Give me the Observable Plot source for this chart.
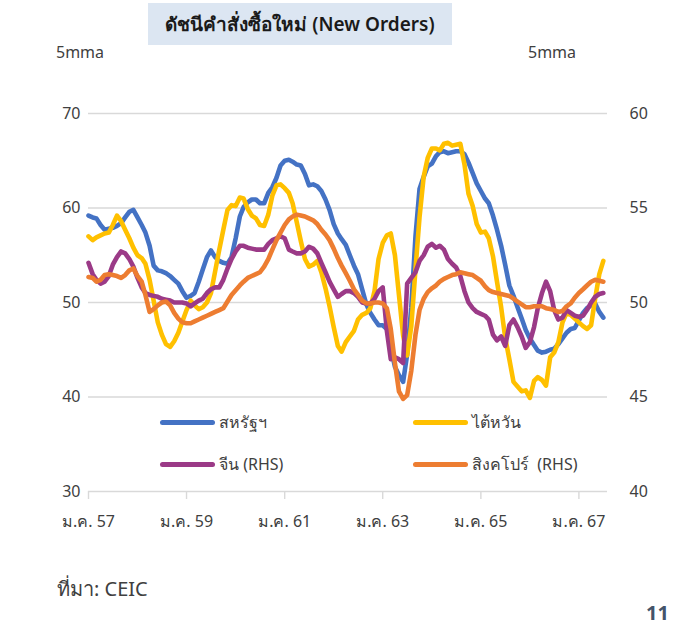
<!DOCTYPE html>
<html><head><meta charset="utf-8">
<script src="https://cdn.jsdelivr.net/npm/d3@7"></script>
<script src="https://cdn.jsdelivr.net/npm/@observablehq/plot@0.6"></script>
<style>
body{margin:0;background:#fff;}
#wrap{position:relative;width:679px;height:627px;font-family:"Noto Sans","Open Sans",sans-serif;color:#404040;overflow:hidden;}
#wrap svg{position:absolute;left:0;top:0;}
.abs{position:absolute;white-space:nowrap;}
.title{left:148px;top:3px;width:304px;height:42px;background:#dce6f2;color:#1a1a1a;font-size:19px;font-weight:600;line-height:42px;text-align:center;}
.lab{font-size:16px;color:#404040;line-height:1.2;}
.leg{position:absolute;height:16px;display:flex;align-items:center;font-size:16px;color:#404040;}
.leg i{display:inline-block;width:55px;height:5px;border-radius:3px;margin-right:4px;}
</style></head><body>
<div id="wrap"></div>
<script>
// Monthly data, Jan 2014 (ม.ค. 57) – Jul 2024, 5-month moving average
const seriesNames = ["สหรัฐฯ", "ไต้หวัน", "จีน (RHS)", "สิงคโปร์  (RHS)"];
const seriesColors = ["#4472C4", "#FFC000", "#9B3A87", "#ED7D31"];
const xTickLabels = ["ม.ค. 57", "ม.ค. 59", "ม.ค. 61", "ม.ค. 63", "ม.ค. 65", "ม.ค. 67"];
const leftTicks = [30, 40, 50, 60, 70];
const rightTicks = [40, 45, 50, 55, 60];

const usa = [59.2,59.0,58.9,58.2,57.7,57.8,57.9,58.1,58.4,59.0,59.6,59.8,59.0,58.2,57.4,56.0,53.9,53.4,53.3,53.1,
52.8,52.4,52.0,51.2,50.5,50.7,51.0,52.2,53.5,54.8,55.5,54.8,54.4,54.2,54.1,54.8,56.8,59.1,60.1,60.6,
60.9,60.9,60.5,60.5,61.6,62.2,63.2,64.5,65.0,65.1,64.9,64.6,64.5,63.6,62.4,62.5,62.3,61.8,60.9,59.8,
58.3,57.3,56.7,56.1,55.0,53.9,53.0,51.4,49.8,48.9,48.2,47.6,47.6,47.2,45.2,43.2,42.3,41.6,44.5,49.5,
57.0,62.0,63.3,64.4,64.7,65.5,65.9,66.0,65.8,65.9,66.0,66.0,65.7,64.8,63.7,62.6,61.8,61.0,60.5,59.2,
57.7,56.0,54.0,51.8,50.7,49.5,48.3,47.1,46.2,45.5,44.9,44.7,44.8,45.0,45.1,45.6,46.2,46.8,47.2,47.3,
48.1,48.9,49.4,49.7,49.9,49.0,48.4];

const taiwan = [57.0,56.6,56.9,57.1,57.3,57.4,58.2,59.2,58.6,57.7,56.8,55.8,55.0,54.7,54.1,52.4,50.2,47.9,46.6,45.6,
45.3,45.9,46.8,48.0,49.2,50.2,49.7,49.3,49.5,50.0,51.0,53.3,55.6,57.7,59.8,60.3,60.2,61.1,61.0,59.9,
59.2,58.9,58.2,58.1,59.3,61.3,62.4,62.5,62.1,61.6,60.5,58.5,56.5,54.6,53.8,54.0,54.4,53.2,51.5,49.6,
47.4,45.4,44.8,45.8,46.4,47.0,48.2,48.7,48.9,49.4,51.2,54.6,56.3,57.1,57.3,55.0,50.8,46.5,44.4,47.5,
53.5,59.0,63.3,65.3,66.3,66.3,66.1,66.8,66.9,66.6,66.7,66.8,64.6,61.5,60.2,58.3,57.4,57.5,56.8,54.9,
52.2,49.5,46.3,44.0,41.6,41.1,40.6,40.7,39.9,41.7,42.1,41.8,41.2,44.2,44.7,45.8,47.9,48.9,48.7,48.3,
47.9,47.5,47.2,47.6,50.4,53.0,54.4];

const china = [52.1,51.5,51.2,51.0,51.1,51.4,52.0,52.4,52.7,52.6,52.3,51.9,51.3,50.8,50.5,50.4,50.35,50.3,50.2,50.15,
50.1,50.0,50.0,50.0,49.95,49.8,49.95,50.1,50.2,50.5,50.7,50.8,50.8,51.2,51.8,52.3,52.7,53.0,53.0,52.9,
52.85,52.8,52.8,52.8,53.1,53.3,53.4,53.5,53.4,52.8,52.7,52.6,52.6,52.7,52.95,52.85,52.6,52.1,51.6,51.1,
50.7,50.3,50.45,50.6,50.6,50.5,50.3,50.0,49.95,49.95,50.2,50.6,50.8,48.5,47.0,47.1,47.0,46.8,51.0,51.3,
51.6,52.2,52.5,52.95,53.1,52.9,53.0,52.8,52.3,52.05,51.85,51.4,50.6,50.0,49.7,49.5,49.4,49.3,49.1,48.3,
48.0,48.2,47.7,48.8,49.1,48.7,48.2,47.6,47.9,48.7,49.7,50.5,51.1,50.6,49.6,49.1,49.2,49.6,49.45,49.3,
49.25,49.3,49.6,50.0,50.3,50.45,50.5];

const singapore = [51.35,51.3,51.1,51.2,51.45,51.5,51.45,51.4,51.3,51.45,51.7,51.8,51.4,51.1,50.4,49.5,49.65,49.85,50.0,50.05,
49.85,49.45,49.15,48.95,48.9,48.9,49.0,49.1,49.2,49.3,49.4,49.5,49.6,49.7,50.05,50.4,50.65,50.9,51.1,51.3,
51.4,51.5,51.6,51.9,52.3,52.8,53.3,53.7,54.1,54.4,54.55,54.65,54.6,54.55,54.45,54.35,54.15,53.85,53.6,53.3,
52.85,52.35,51.95,51.55,51.15,50.7,50.4,50.1,49.95,49.95,50.0,50.0,49.95,49.7,48.6,46.8,45.3,44.9,45.1,46.4,
48.3,49.6,50.2,50.55,50.75,50.9,51.1,51.25,51.35,51.45,51.5,51.6,51.55,51.5,51.45,51.3,51.15,50.85,50.65,50.55,
50.5,50.45,50.4,50.35,50.2,50.05,49.9,49.75,49.75,49.8,49.8,49.8,49.7,49.65,49.6,49.5,49.55,49.8,49.95,50.25,
50.5,50.7,50.9,51.1,51.2,51.15,51.1];

const dates = usa.map((_, i) => new Date(2014, i, 1));
const rightToLeft = v => (v - 25) * 2;   // secondary axis 40–60 shares the 30–70 frame
const tickDates = xTickLabels.map((_, i) => new Date(2014 + 2 * i, 0, 1));

const rows = (vals, secondary) => vals.map((v, i) => ({date: dates[i], y: secondary ? rightToLeft(v) : v}));
const lineOpts = c => ({x: "date", y: "y", stroke: c, strokeWidth: 4.6, strokeLinejoin: "round", strokeLinecap: "round"});

const chart = Plot.plot({
  width: 679, height: 627,
  marginTop: 113, marginBottom: 136, marginLeft: 88, marginRight: 72,
  style: {fontFamily: '"Noto Sans","Open Sans",sans-serif', fontSize: "16px", color: "#404040", background: "transparent"},
  x: {type: "time", domain: [new Date(2014, 0, 1), new Date(2024, 7, 1)]},
  y: {domain: [30, 70]},
  marks: [
    Plot.ruleY([40, 50, 60, 70], {stroke: "#d9d9d9", strokeWidth: 1.4}),
    Plot.ruleY([30], {stroke: "#d9d9d9", strokeWidth: 1.6}),
    Plot.axisX({ticks: tickDates, tickFormat: (d, i) => xTickLabels[tickDates.findIndex(t => +t === +d)],
      tickSize: 8, tickPadding: 16, stroke: "#d9d9d9", strokeWidth: 1.4, fill: "#404040", label: null}),
    Plot.axisY({anchor: "left", ticks: leftTicks, tickSize: 0, tickPadding: 8, fill: "#404040", label: null}),
    Plot.axisY({anchor: "right", ticks: rightTicks.map(rightToLeft), tickFormat: d => String(d / 2 + 25),
      tickSize: 0, tickPadding: 22, textAnchor: "start", fill: "#404040", label: null}),
    Plot.line(rows(usa, false), lineOpts(seriesColors[0])),
    Plot.line(rows(taiwan, false), lineOpts(seriesColors[1])),
    Plot.line(rows(china, true), lineOpts(seriesColors[2])),
    Plot.line(rows(singapore, true), lineOpts(seriesColors[3]))
  ]
});

const wrap = document.getElementById("wrap");
wrap.appendChild(chart);

function addDiv(cls, text, css) {
  const d = document.createElement("div");
  d.className = "abs " + cls;
  d.textContent = text;
  Object.assign(d.style, css);
  wrap.appendChild(d);
  return d;
}
addDiv("title", "ดัชนีคำสั่งซื้อใหม่ (New Orders)", {});
addDiv("lab", "5mma", {left: "56px", top: "43px"});
addDiv("lab", "5mma", {left: "528px", top: "43px"});
addDiv("lab", "ที่มา: CEIC", {left: "57px", top: "577px", fontSize: "20px"});
addDiv("lab", "11", {left: "646px", top: "603px", fontSize: "20px", lineHeight: "1", fontWeight: "700", color: "#44546a"});

const legPos = [[160, 414], [413, 414], [160, 456], [413, 456]];
seriesNames.forEach((n, i) => {
  const d = document.createElement("div");
  d.className = "leg";
  d.style.left = legPos[i][0] + "px";
  d.style.top = legPos[i][1] + "px";
  const sw = document.createElement("i");
  sw.style.background = seriesColors[i];
  d.appendChild(sw);
  const s = document.createElement("span");
  s.textContent = n;
  s.style.whiteSpace = "pre";
  d.appendChild(s);
  wrap.appendChild(d);
});
</script>
</body></html>
